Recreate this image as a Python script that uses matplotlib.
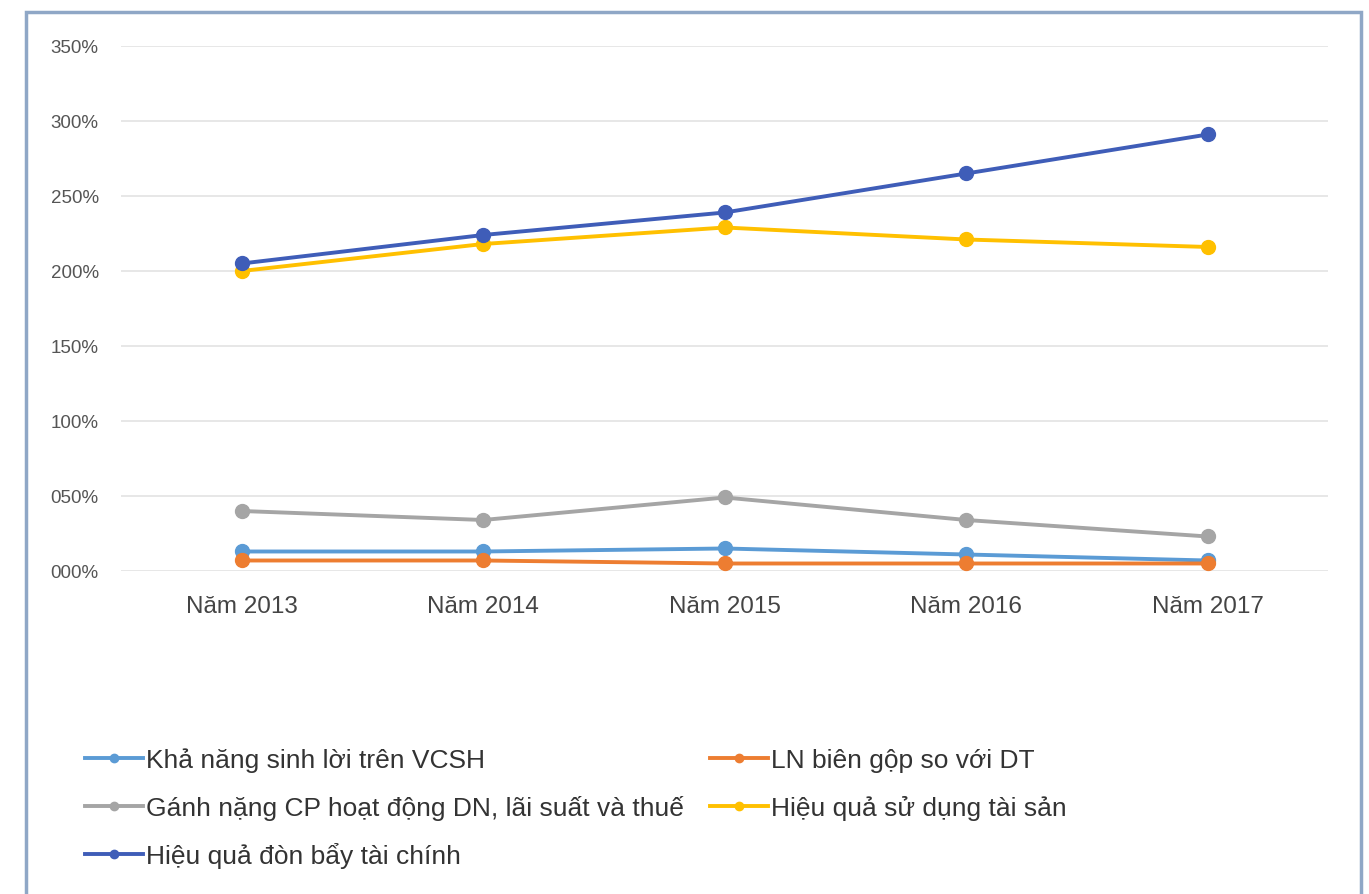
import matplotlib.pyplot as plt
from matplotlib.patches import Rectangle
from matplotlib.ticker import FuncFormatter

plt.rcParams['font.family'] = ['Liberation Sans', 'DejaVu Sans']

years = ["Năm 2013", "Năm 2014", "Năm 2015", "Năm 2016", "Năm 2017"]

# values in %
kha_nang_sinh_loi = [13, 13, 15, 11, 7]
ganh_nang_cp = [40, 34, 49, 34, 23]
don_bay = [205, 224, 239, 265, 291]
ln_bien_gop = [7, 7, 5, 5, 5]
hieu_qua_ts = [200, 218, 229, 221, 216]

labels = [
    "Khả năng sinh lời trên VCSH",
    "Gánh nặng CP hoạt động DN, lãi suất và thuế",
    "Hiệu quả đòn bẩy tài chính",
    "LN biên gộp so với DT",
    "Hiệu quả sử dụng tài sản",
]
series = [kha_nang_sinh_loi, ganh_nang_cp, don_bay, ln_bien_gop, hieu_qua_ts]
colors = ["#5B9BD5", "#A5A5A5", "#3F5DB8", "#ED7D31", "#FFC000"]

fig = plt.figure(figsize=(13.69, 8.95), dpi=100)
fig.patch.set_facecolor("white")
ax = fig.add_axes([0.0884, 0.3609, 0.882, 0.5866])

x = range(len(years))
# draw in an order so the big lines sit on top like the original
draw_order = [1, 0, 3, 4, 2]
lines = {}
for i in draw_order:
    ln, = ax.plot(x, series[i], color=colors[i], linewidth=2.8, marker="o",
                  markersize=10, label=labels[i])
    lines[i] = ln

ax.set_xlim(-0.5, 4.5)
ax.set_ylim(0, 350)
ax.set_yticks(range(0, 351, 50))
ax.yaxis.set_major_formatter(FuncFormatter(lambda v, p: f"{int(v):03d}%"))
ax.set_xticks(list(x))
ax.set_xticklabels(years)
ax.grid(axis="y", color="#E3E3E3", linewidth=1.2)
ax.set_axisbelow(True)
for s in ax.spines.values():
    s.set_visible(False)
ax.tick_params(axis="both", length=0)
ax.tick_params(axis="y", labelsize=13.5, labelcolor="#555555", pad=16)
ax.tick_params(axis="x", labelsize=17.5, labelcolor="#444444", pad=17)

handles = [lines[i] for i in range(5)]
fig.legend(handles, labels, ncol=2, loc="upper left", bbox_to_anchor=(0.045, 0.19),
           frameon=False, fontsize=19, handlelength=2.2, handletextpad=0.1,
           columnspacing=1.0, labelspacing=0.85, markerscale=0.6,
           labelcolor="#333333")

fig.patches.append(Rectangle((0.019, -0.05), 0.975, 1.035, transform=fig.transFigure,
                             fill=False, edgecolor="#8FA7C6", linewidth=2.5))

fig.savefig("out.png", dpi=100)
